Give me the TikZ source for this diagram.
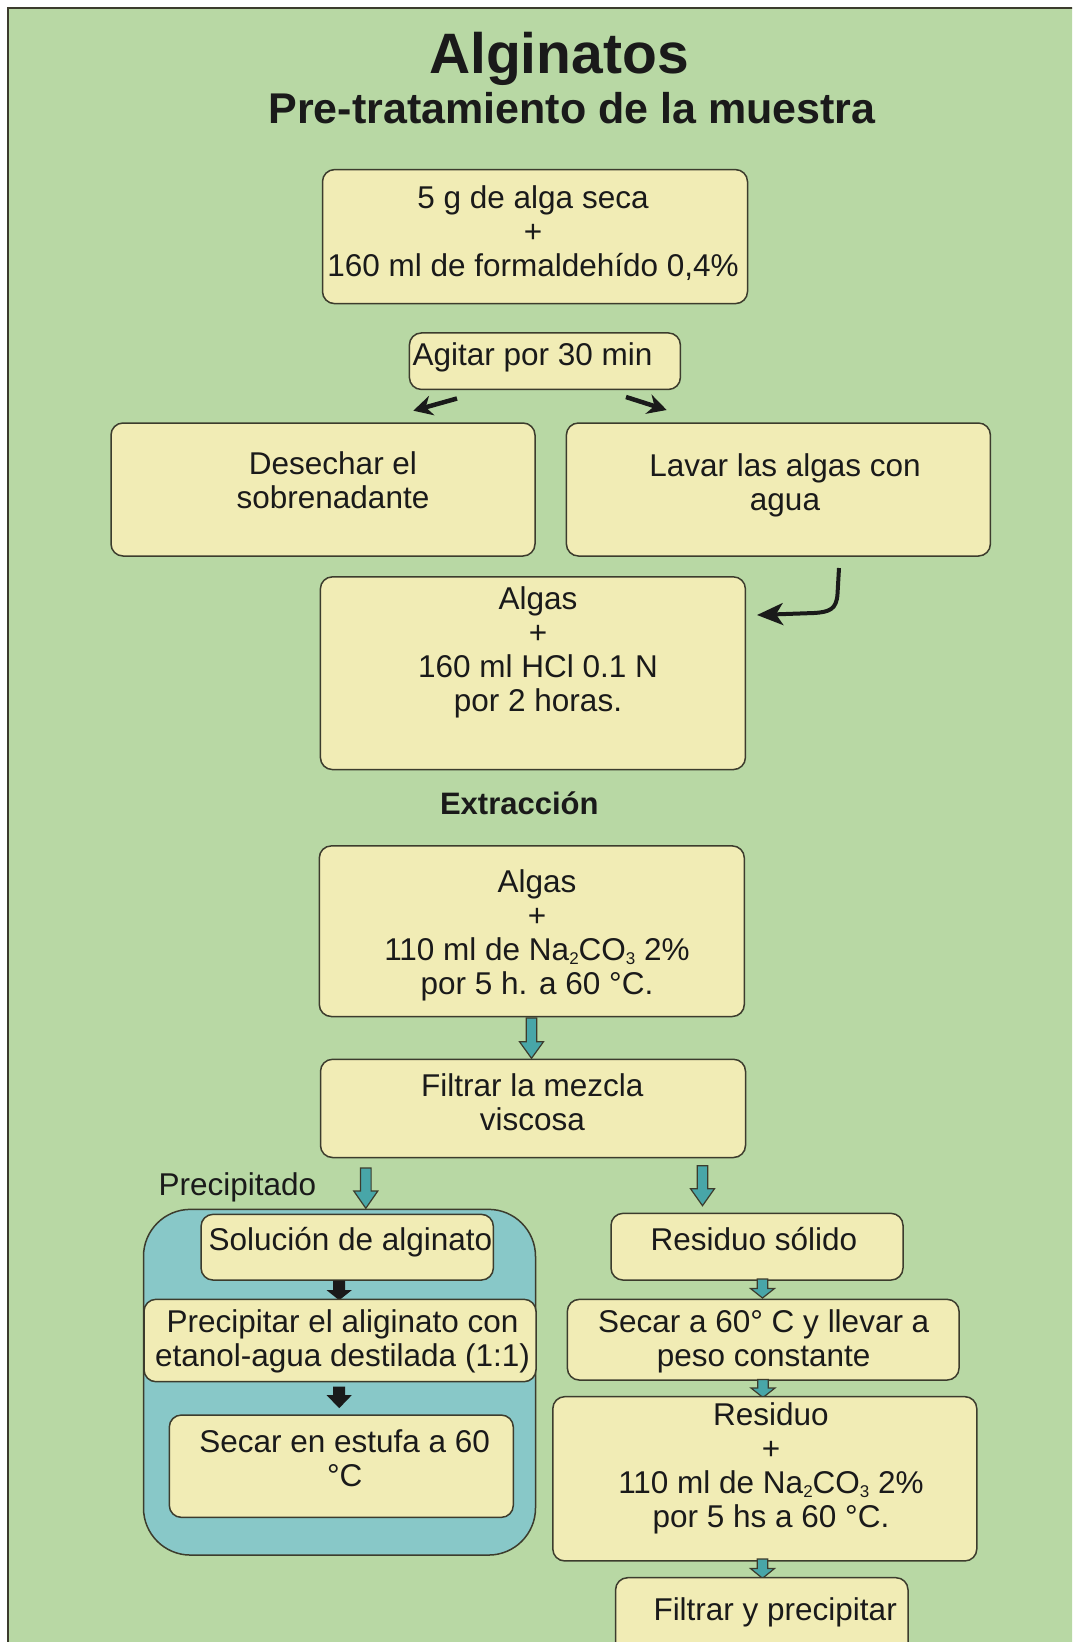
\documentclass[tikz,border=0pt]{standalone}
\usepackage{fontspec}
\setmainfont{Liberation Sans}
\usetikzlibrary{arrows.meta}
\definecolor{bggreen}{RGB}{184,216,164}
\definecolor{boxfill}{RGB}{241,236,181}
\definecolor{edgec}{RGB}{60,60,45}
\definecolor{regionblue}{RGB}{136,200,200}
\definecolor{tealfill}{RGB}{72,166,168}
\definecolor{inkc}{RGB}{26,26,26}
\begin{document}
\begin{tikzpicture}[x=1pt,y=-1pt,
  box/.style={rectangle, draw=edgec, line width=1.5pt, fill=boxfill, rounded corners=12pt, inner sep=0pt},
  txt/.style={font=\fontsize{31.5}{34}\selectfont, align=center, inner sep=0pt, text=inkc},
  linearrow/.style={draw=inkc, line width=4.5pt, -{Stealth[length=19pt,width=20pt]}},
  pics/tdown/.style 2 args={code={
    \filldraw[draw=edgec, fill=tealfill, line width=1.2pt, line join=miter]
      (-5.3,0) -- (-5.3,#1) -- (-12,#1) -- (0,#2) -- (12,#1) -- (5.3,#1) -- (5.3,0) -- cycle;}},
  pics/bdown/.style 2 args={code={
    \fill[inkc] (-6,0) -- (-6,#1) -- (-12.5,#1) -- (0,#2) -- (12.5,#1) -- (6,#1) -- (6,0) -- cycle;}}
]
\useasboundingbox (0,0) rectangle (1072,1642);
\clip (0,0) rectangle (1072,1642);
\fill[white] (0,0) rectangle (1072,1642);
\filldraw[fill=bggreen, draw=edgec, line width=2pt] (7.5,7.5) rectangle (1100,1680);

% titles
\node[font=\bfseries\fontsize{57}{60}\selectfont, anchor=base, inner sep=0pt, text=inkc] (title) at (559,73) {Alginatos};
\node[font=\bfseries\fontsize{43}{46}\selectfont, anchor=base, inner sep=0pt, text=inkc] (subtitle) at (572,123.5) {Pre-tratamiento de la muestra};

% pre-treatment boxes (multi-line text: base anchor = last line baseline)
\node[box, minimum width=425pt, minimum height=134pt] (b1) at (535,236.6) {};
\node[txt, anchor=base] (b1t) at (533,276) {5 g de alga seca\\+\\160 ml de formaldehído 0,4\%};

\node[box, minimum width=271pt, minimum height=56.5pt] (agit) at (544.9,361.2) {};
\node[txt, anchor=base west] (agitt) at (412.3,365.5) {Agitar por 30 min};

\node[box, minimum width=424pt, minimum height=133pt] (desc) at (323,489.5) {};
\node[txt, anchor=base] (desct) at (333,508) {Desechar el\\sobrenadante};

\node[box, minimum width=424pt, minimum height=133pt] (lavar) at (778.4,489.5) {};
\node[txt, anchor=base] (lavart) at (785,510) {Lavar las algas con\\agua};

\coordinate (aLs) at (457,398.5);
\coordinate (aLe) at (413.3,410.7);
\coordinate (aRs) at (626,397);
\coordinate (aRe) at (666.7,410);
\draw[linearrow] (aLs) -- (aLe);
\draw[linearrow] (aRs) -- (aRe);

\node[box, minimum width=425pt, minimum height=192.7pt] (hcl) at (532.9,673.2) {};
\node[txt, anchor=base] (hclt) at (538,711) {Algas\\+\\160 ml HCl 0.1 N\\por 2 horas.};

\coordinate (cs) at (839,568);
\coordinate (ce) at (757,615);
\draw[draw=inkc, line width=4pt, -{Stealth[length=26pt,width=22pt,inset=7pt]}]
  (cs) -- (837.5,594) .. controls (836.5,609) and (830,612) .. (814,613) -- (ce);

% extraction
\node[font=\bfseries\fontsize{31}{34}\selectfont, anchor=base, inner sep=0pt, text=inkc] (extr) at (519.3,814) {Extracción};

\node[box, minimum width=425pt, minimum height=170.6pt] (na) at (531.8,931.2) {};
\node[txt, anchor=base] (nat) at (537,994) {Algas\\+\\110 ml de Na\raisebox{-4pt}{\fontsize{17}{17}\selectfont 2}CO\raisebox{-4pt}{\fontsize{17}{17}\selectfont 3} 2\%\\por 5 h. a 60 °C.};

\pic at (531.5,1018) {tdown={23.7}{40.3}};

\node[box, minimum width=425pt, minimum height=98.2pt] (filt) at (533,1108.4) {};
\node[txt, anchor=base] (filtt) at (532.3,1130) {Filtrar la mezcla\\viscosa};

\pic at (365.8,1168) {tdown={23}{40.3}};
\pic at (702.5,1165.7) {tdown={23}{40}};

\node[txt, anchor=base west] (precip) at (158.3,1195) {Precipitado};

% left branch
\node[rectangle, draw=edgec, line width=1.5pt, fill=regionblue, rounded corners=47pt, minimum width=392pt, minimum height=345.7pt] (reg) at (339.5,1382.2) {};

\node[box, minimum width=292.3pt, minimum height=65.7pt] (sol) at (347.2,1247.2) {};
\node[txt, anchor=base west] (solt) at (208.3,1250) {Solución de alginato};

\pic at (339.2,1280.7) {bdown={9.5}{19.5}};

\node[box, minimum width=392pt, minimum height=82.4pt] (prec) at (340,1340.5) {};
\node[txt, anchor=base] (prect) at (342.5,1366) {Precipitar el aliginato con\\etanol-agua destilada (1:1)};

\pic at (339.2,1386.7) {bdown={8.5}{21.5}};

\node[box, minimum width=344pt, minimum height=102.3pt] (est) at (341.3,1466.2) {};
\node[txt, anchor=base] (estt) at (344.7,1486) {Secar en estufa a 60\\°C};

% right branch
\node[box, minimum width=292pt, minimum height=66.7pt] (rs) at (757,1246.7) {};
\node[txt, anchor=base] (rst) at (754,1250.7) {Residuo sólido};

\pic at (762.5,1279) {tdown={9.5}{19}};

\node[box, minimum width=391.7pt, minimum height=80.7pt] (s60) at (763.2,1339.7) {};
\node[txt, anchor=base] (s60t) at (763.7,1366) {Secar a 60° C y llevar a\\peso constante};

\pic at (763,1379.5) {tdown={8.5}{18}};

\node[box, minimum width=424pt, minimum height=164.3pt] (res2) at (764.8,1478.8) {};
\node[txt, anchor=base] (res2t) at (771,1527) {Residuo\\+\\110 ml de Na\raisebox{-4pt}{\fontsize{17}{17}\selectfont 2}CO\raisebox{-4pt}{\fontsize{17}{17}\selectfont 3} 2\%\\por 5 hs a 60 °C.};

\pic at (762.5,1559) {tdown={9.5}{19.3}};

\node[box, minimum width=292.4pt, minimum height=90pt] (fyp) at (761.8,1622.7) {};
\node[txt, anchor=base west] (fypt) at (653.3,1620) {Filtrar y precipitar};

\end{tikzpicture}
\end{document}
